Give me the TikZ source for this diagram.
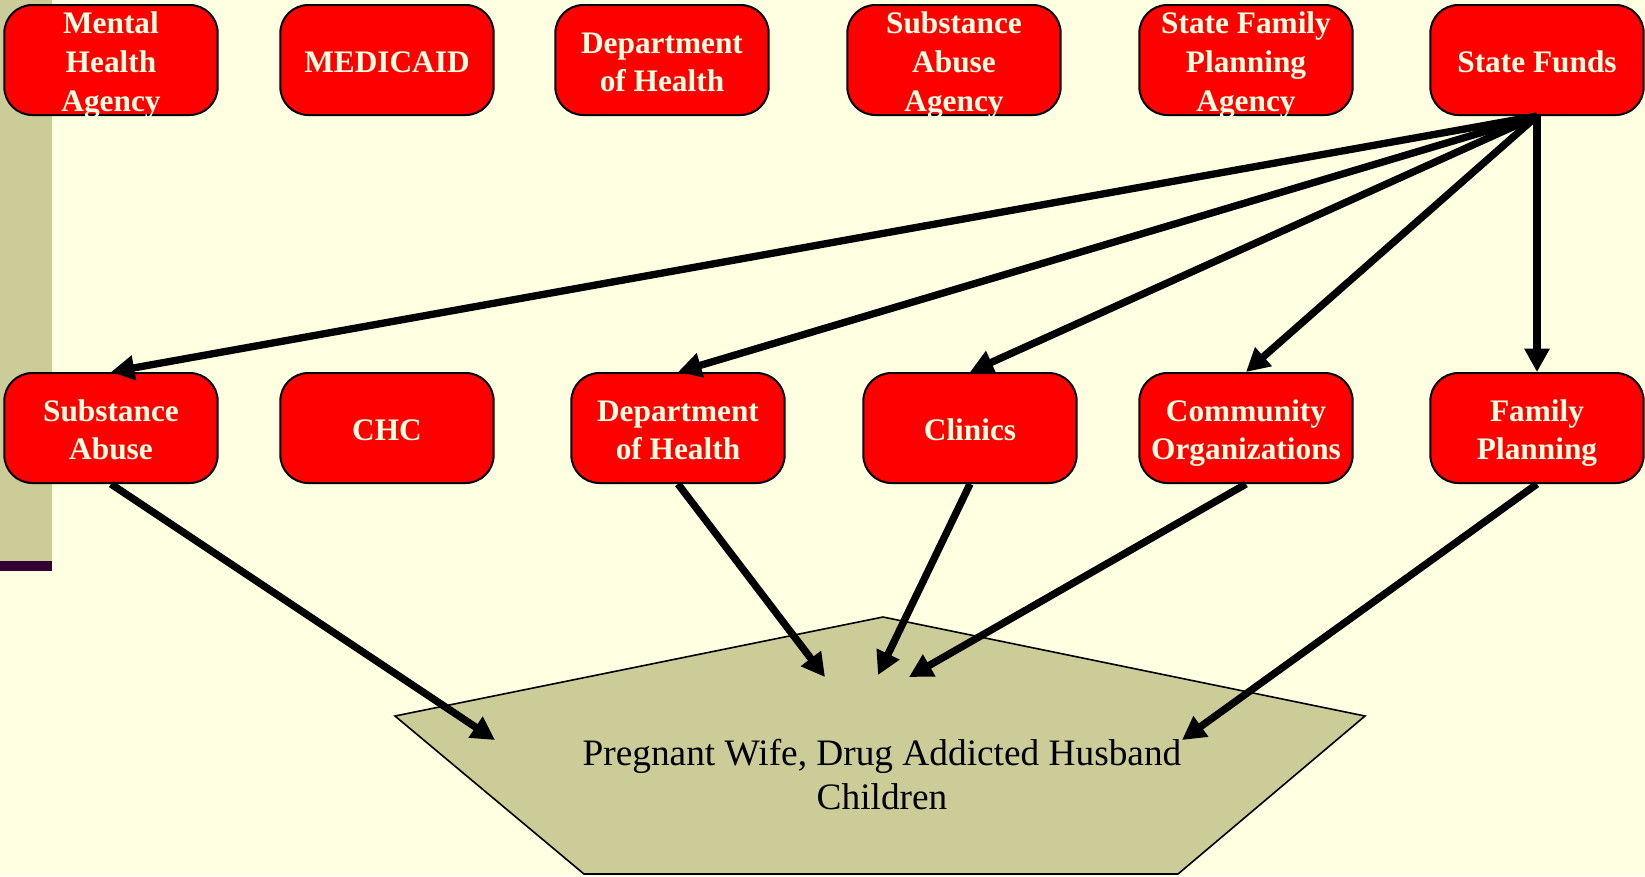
\documentclass[tikz,border=0pt]{standalone}
\usepackage{fontspec}
\setmainfont{Liberation Serif}
\usetikzlibrary{arrows.meta}
\definecolor{paper}{RGB}{255,255,225}
\definecolor{olive}{RGB}{204,204,153}
\definecolor{plum}{RGB}{51,0,51}
\definecolor{boxred}{RGB}{255,0,0}
\newcommand{\bxs}{\rule[-2.6pt]{0pt}{24pt}}

\begin{document}
\begin{tikzpicture}[x=0.75pt,y=0.75pt,yscale=-1,xscale=1,
  agency/.style={draw=black,line width=1.5pt,fill=boxred,rounded corners=21pt,
    minimum width=160pt,minimum height=82.5pt,inner sep=0pt,align=center,
    text=paper,font=\bfseries\fontsize{23.5}{29}\selectfont,text depth=2.6pt},
  flow/.style={line width=5.5pt,-{Triangle[length=17.5pt,width=18pt]}}]
\useasboundingbox (0,0) rectangle (1645,876);

%Background
\fill [paper] (0,0) rectangle (1645,876);
\fill [olive] (0,0) rectangle (52,561);
\fill [plum] (0,561) rectangle (52,571);

%Shape: Pentagon
\draw [fill=olive,line width=1.2pt] (883,617) -- (1365,716) -- (1178,874) -- (584,874) -- (395,716) -- cycle;
% Text Node
\node [font=\fontsize{28}{33}\selectfont,align=center] (family) at (882,775) {Pregnant Wife, Drug Addicted Husband\\Children};

% Top row
\node [agency] (mha) at (111,60) {\bxs Mental\\Health\\Agency};
\node [agency] (mcd) at (387,60) {\bxs MEDICAID};
\node [agency] (doh) at (662,60) {\bxs Department\\of Health};
\node [agency] (saa) at (954,60) {\bxs Substance\\Abuse\\Agency};
\node [agency] (sfp) at (1246,60) {\bxs State Family\\Planning\\Agency};
\node [agency] (sf) at (1537,60) {\bxs State Funds};

% Second row
\node [agency] (sa) at (111,428) {\bxs Substance\\Abuse};
\node [agency] (chc) at (387,428) {\bxs CHC};
\node [agency] (dh) at (678,428) {\bxs Department\\of Health};
\node [agency] (cl) at (970,428) {\bxs Clinics};
\node [agency] (co) at (1246,428) {\bxs Community\\Organizations};
\node [agency] (fp) at (1537,428) {\bxs Family\\Planning};

%Straight Lines
\draw [flow] (sf.south) -- (sa.north);
\draw [flow] (sf.south) -- (dh.north);
\draw [flow] (sf.south) -- (cl.north);
\draw [flow] (sf.south) -- (co.north);
\draw [flow] (sf.south) -- (fp.north);

\coordinate (inA) at (495,740);
\coordinate (inB) at (825,677);
\coordinate (inC) at (878,675);
\coordinate (inD) at (909,677);
\coordinate (inE) at (1182,740);

%Straight Lines
\draw [flow] (sa.south) -- (inA);
\draw [flow] (dh.south) -- (inB);
\draw [flow] (cl.south) -- (inC);
\draw [flow] (co.south) -- (inD);
\draw [flow] (fp.south) -- (inE);

\end{tikzpicture}
\end{document}
